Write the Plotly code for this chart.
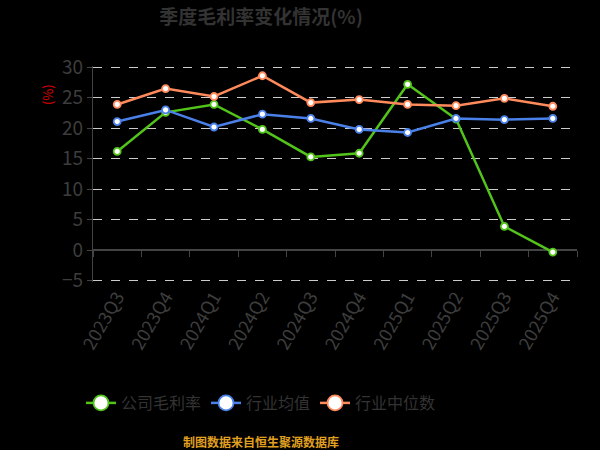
import plotly.graph_objects as go

# quarterly gross margin data (%)
quarters = ['2023Q3', '2023Q4', '2024Q1', '2024Q2', '2024Q3',
            '2024Q4', '2025Q1', '2025Q2', '2025Q3', '2025Q4']
company = [16.2, 22.6, 23.9, 19.8, 15.3, 15.9, 27.2, 21.5, 3.9, -0.3]
ind_mean = [21.1, 23.0, 20.2, 22.3, 21.6, 19.8, 19.3, 21.6, 21.4, 21.6]
ind_median = [23.9, 26.5, 25.2, 28.6, 24.2, 24.7, 23.9, 23.7, 24.9, 23.6]

series_names = ['公司毛利率', '行业均值', '行业中位数']
colors = ['#52c41a', '#4a80e8', '#ff8a5b']

FONT = 'Noto Sans CJK SC'
Y_LO, Y_HI = -5.2, 30.2   # small padding so the -5 / 30 gridlines are kept
TOP, BOTTOM = 66, 168
PLOT_H = 450 - TOP - BOTTOM
CENTER = (261 - 93) / 484  # title/legend/source sit a bit left of the canvas middle


def py(pixel_y):
    # canvas pixel row -> paper y fraction
    return (450 - BOTTOM - pixel_y) / PLOT_H


fig = go.Figure()

for name, vals, col in zip(series_names, [company, ind_mean, ind_median], colors):
    fig.add_trace(go.Scatter(
        x=quarters, y=vals, mode='lines+markers', name=name,
        line=dict(color=col, width=2.5),
        marker=dict(size=7, color='white', line=dict(color=col, width=1.8)),
        showlegend=False
    ))
    # legend-only copy with bigger markers
    fig.add_trace(go.Scatter(
        x=[None], y=[None], mode='lines+markers', name=name,
        line=dict(color=col, width=2.5),
        marker=dict(size=15, color='white', line=dict(color=col, width=1.8)),
    ))

# overlay axis used only for the boundary ticks under the zero line
fig.add_trace(go.Scatter(x=[0], y=[0], xaxis='x2', mode='markers',
                         marker=dict(opacity=0), showlegend=False, hoverinfo='skip'))

fig.update_layout(
    width=600, height=450,
    paper_bgcolor='black', plot_bgcolor='black',
    margin=dict(l=93, r=23, t=TOP, b=BOTTOM),
    font=dict(family=FONT, color='#444444'),
    title=dict(text='<b>季度毛利率变化情况(%)</b>', xref='paper', x=CENTER, xanchor='center',
               y=0.962, yanchor='middle',
               font=dict(size=19, color='#333333', family=FONT)),
    xaxis=dict(
        type='category', range=[-0.5, 9.5], showgrid=False, showline=False,
        ticks='', tickangle=-60, tickfont=dict(size=18, color='#3d3d3d'),
        zeroline=False
    ),
    xaxis2=dict(
        overlaying='x', anchor='free', position=(0 - Y_LO) / (Y_HI - Y_LO), range=[-0.5, 9.5],
        showline=False,
        ticks='outside', ticklen=6, tickcolor='#444444', tickwidth=1.2,
        tickmode='array', tickvals=[i - 0.5 for i in range(11)],
        showticklabels=False, showgrid=False, zeroline=False
    ),
    yaxis=dict(
        range=[Y_LO, Y_HI], tickmode='array', tickvals=list(range(-5, 31, 5)),
        showline=True, linecolor='#444444', linewidth=1.2,
        ticks='outside', ticklen=5, tickcolor='#444444',
        tickfont=dict(size=19, color='#3d3d3d'),
        showgrid=True, gridcolor='#cccccc', griddash='dash', gridwidth=1.2,
        zeroline=True, zerolinecolor='#444444', zerolinewidth=1.5
    ),
    legend=dict(orientation='h', x=CENTER, xanchor='center', y=py(403), yanchor='middle',
                font=dict(size=16, color='#333333'), itemwidth=30,
                bgcolor='rgba(0,0,0,0)'),
    annotations=[
        dict(text='(%)', textangle=-90, x=-0.095, y=py(95), xref='paper', yref='paper',
             xanchor='center', yanchor='middle',
             showarrow=False, font=dict(size=13, color='#e00000')),
        dict(text='<b>制图数据来自恒生聚源数据库</b>', x=CENTER, y=py(441),
             xref='paper', yref='paper', xanchor='center', yanchor='middle',
             showarrow=False, font=dict(size=12, color='#e0a020', family=FONT)),
    ],
    hovermode=False
)

fig.write_html('out.html', config={'displayModeBar': False},
               post_script="document.body.style.margin='0';document.body.style.background='black';")
